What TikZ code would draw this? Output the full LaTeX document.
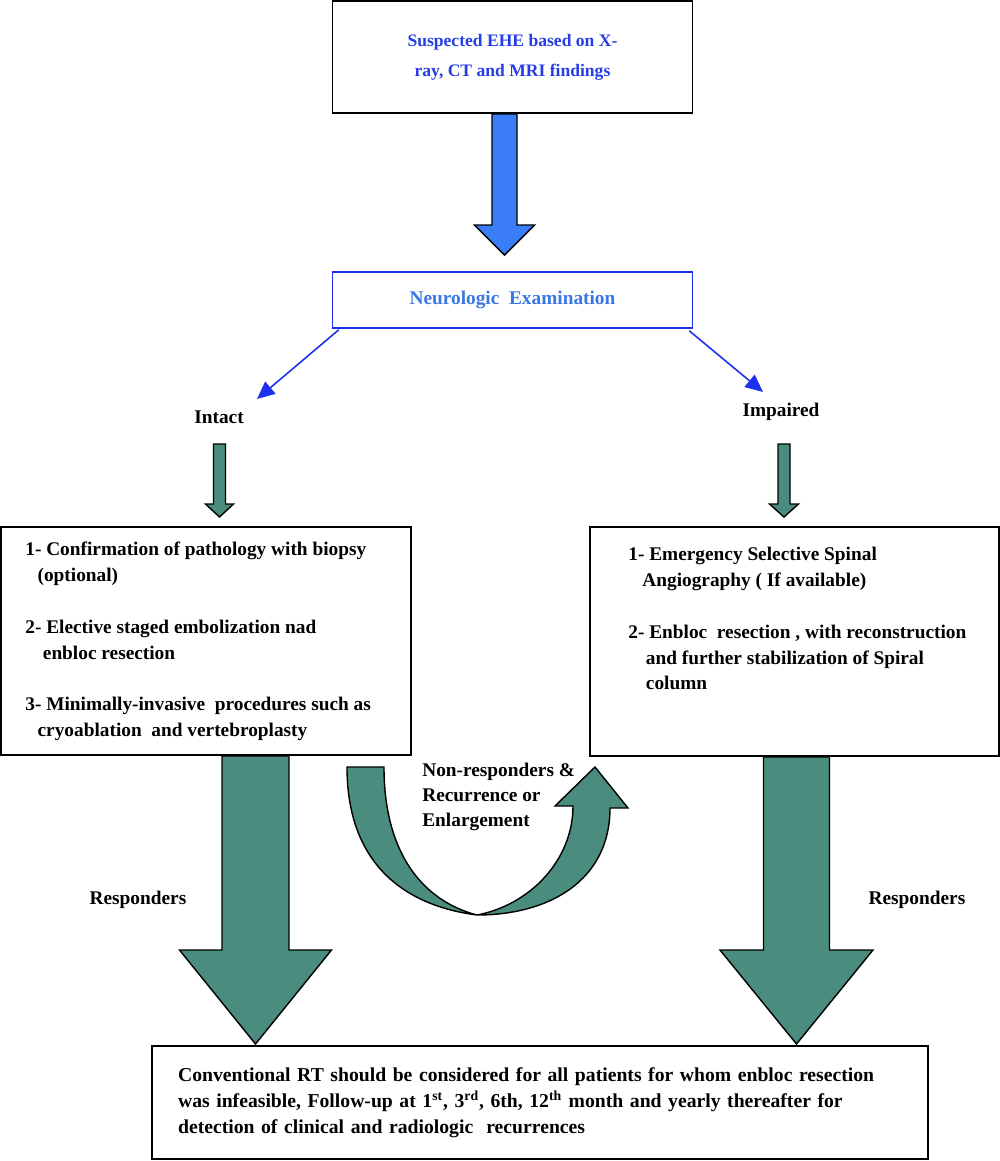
\documentclass[tikz,border=0pt]{standalone}
\usepackage{fontspec}
\setmainfont{Liberation Serif}
\usetikzlibrary{calc,arrows.meta}

\definecolor{arrowgreen}{RGB}{74,140,126}
\definecolor{arrowblue}{RGB}{59,125,246}
\definecolor{linkblue}{RGB}{28,48,238}
\definecolor{titleblue}{RGB}{38,62,228}
\definecolor{neuroblue}{RGB}{58,118,228}

% fat block arrow: from, tip, half shaft, half head, head length
\newcommand{\blockarrow}[6][]{%
  \draw[fat,#1] ($(#2)+(-#4,0)$) -- ($(#3)+(-#4,-#6)$) -- ($(#3)+(-#5,-#6)$) -- (#3)
    -- ($(#3)+(#5,-#6)$) -- ($(#3)+(#4,-#6)$) -- ($(#2)+(#4,0)$) -- cycle;}

\begin{document}
\begin{tikzpicture}[x=0.02cm, y=-0.02cm,
    every node/.style={font=\bfseries},
    box/.style={draw, line width=1pt, inner sep=0pt},
    steps/.style={align=left, inner sep=0pt, anchor=north west, font=\fontsize{11}{14.7}\selectfont\bfseries},
    tag/.style={inner sep=1pt, font=\fontsize{11}{14.2}\selectfont\bfseries},
    fat/.style={draw=black, line width=0.8pt, fill=arrowgreen},
    link/.style={draw=linkblue, line width=0.9pt, -{Triangle[length=10pt,width=9pt]}}]
    \useasboundingbox (0,0) rectangle (1000,1161);

    \node[box, minimum width=7.2cm, minimum height=2.24cm, align=center, text=titleblue,
      font=\fontsize{10}{17}\selectfont\bfseries] (suspected) at (512.5,57) {Suspected EHE based on X-\\ray, CT and MRI findings};
    \node[box, draw=linkblue, line width=0.9pt, minimum width=7.2cm, minimum height=1.12cm, text=neuroblue,
      font=\fontsize{11}{14}\selectfont\bfseries] (neuro) at (512.5,300) {Neurologic\ \ Examination};

    \coordinate (blueTip) at (504.5,255);
    \coordinate (blueTop) at (suspected.south -| blueTip);
    \blockarrow[fill=arrowblue]{blueTop}{blueTip}{12.5}{30}{30}

    \node[tag] (intact) at (219,417) {Intact};
    \node[tag] (impaired) at (781,412) {Impaired};
    \coordinate (toIntact) at (257,399);
    \coordinate (toImpaired) at (763,392);
    \draw[link] ($(neuro.south west)+(7,1)$) -- (toIntact);
    \draw[link] ($(neuro.south east)+(-4,2)$) -- (toImpaired);

    \node[box, minimum width=8.2cm, minimum height=4.56cm] (intactBox) at (206,641) {};
    \node[box, minimum width=8.18cm, minimum height=4.58cm] (impairedBox) at (794.5,641.5) {};

    \coordinate (intactTop) at (219.5,444);
    \coordinate (intactTip) at (219.5,517);
    \blockarrow{intactTop}{intactTip}{6}{14}{13}
    \coordinate (impairedTop) at (784,444);
    \coordinate (impairedTip) at (784,517);
    \blockarrow{impairedTop}{impairedTip}{6}{14.5}{13}

    \node[steps] (intactSteps) at (25,542) {1- Confirmation of pathology with biopsy\\\hspace*{7pt}(optional)\\[14.7pt]2- Elective staged embolization nad\\\hspace*{10pt}enbloc resection\\[14.7pt]3- Minimally-invasive\ \ procedures such as\\\hspace*{7pt}cryoablation\ \ and vertebroplasty};
    \node[steps] (impairedSteps) at (628,547) {1- Emergency Selective Spinal\\\hspace*{8pt}Angiography ( If available)\\[14.7pt]2- Enbloc\ \ resection , with reconstruction\\\hspace*{10pt}and further stabilization of Spiral\\\hspace*{10pt}column};

    \node[box, minimum width=15.52cm, minimum height=2.26cm, inner xsep=0.52cm, text width=14.48cm, align=left,
      font=\fontsize{11.2}{14.7}\selectfont\bfseries] (rt) at (540,1102.5) {Conventional RT should be considered for all patients for whom enbloc resection\\was infeasible, Follow-up at 1\textsuperscript{st}, 3\textsuperscript{rd}, 6th, 12\textsuperscript{th} month and yearly thereafter for\\detection of clinical and radiologic\ \ recurrences};

    % responders
    \coordinate (leftTip) at (255.5,1044);
    \coordinate (leftTop) at (intactBox.south -| leftTip);
    \blockarrow{leftTop}{leftTip}{33.5}{76}{94}
    \coordinate (rightTip) at (796.5,1044);
    \coordinate (rightTop) at (impairedBox.south -| rightTip);
    \blockarrow{rightTop}{rightTip}{33}{76.5}{94}
    \node[tag] (respLeft) at (138,900) {Responders};
    \node[tag] (respRight) at (917,900) {Responders};

    % non-responders
    \draw[fat] (347,767) -- (384,767) .. controls (384,850) and (420,900) .. (477,915)
      .. controls (530,905) and (573,860) .. (573,806) -- (555,806) -- (595,767) -- (628,808) -- (610,808)
      .. controls (610,880) and (550,915) .. (477,915) .. controls (400,905) and (347,860) .. (347,767) -- cycle;
    \node[tag, anchor=north west, align=left, inner sep=0pt] (nonResp) at (422,763) {Non-responders \&\\Recurrence or\\Enlargement};
\end{tikzpicture}
\end{document}
